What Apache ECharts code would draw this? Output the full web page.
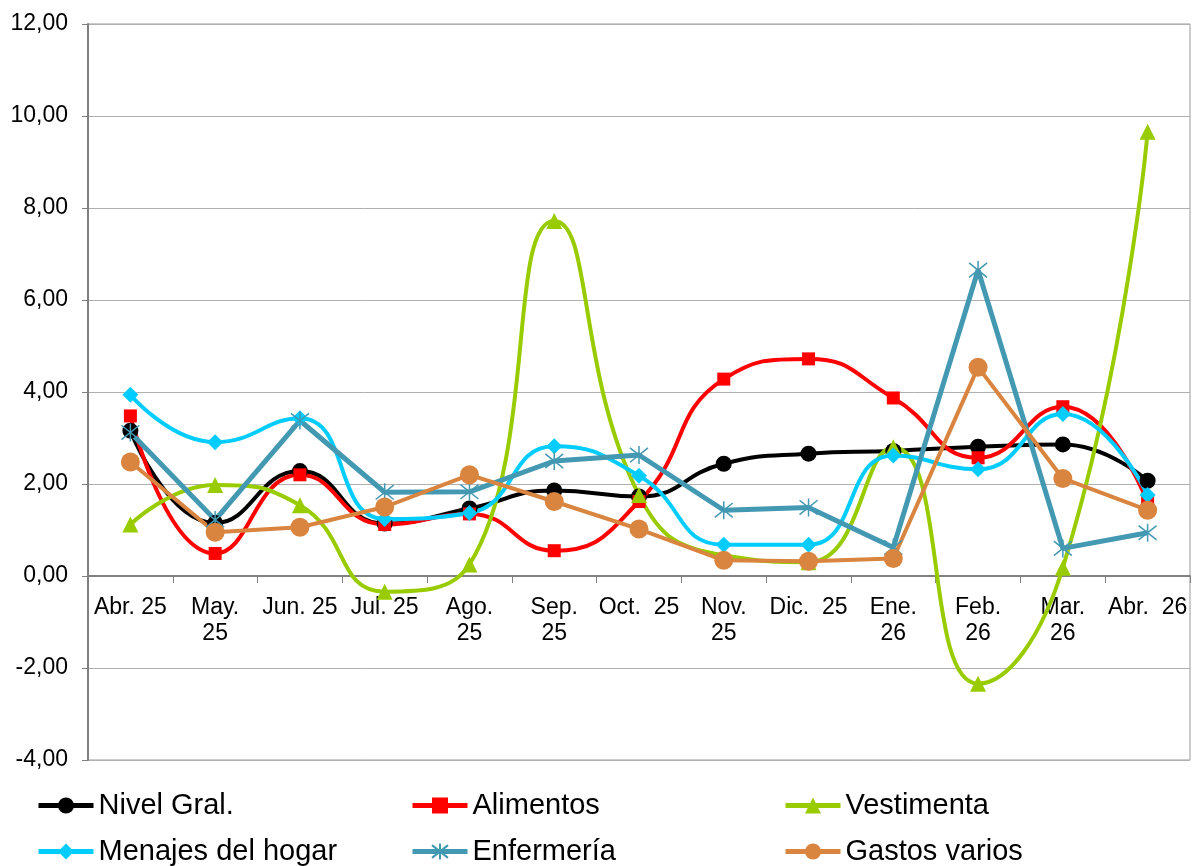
<!DOCTYPE html>
<html>
<head>
<meta charset="utf-8">
<script src="https://cdn.jsdelivr.net/npm/echarts@6/dist/echarts.min.js"></script>
<style>
html,body{margin:0;padding:0;background:#fff;}
#c{width:1192px;height:866px;}
</style>
</head>
<body>
<div id="c"></div>
<script>
var categories = ['Abr. 25','May.\n25','Jun. 25','Jul. 25','Ago.\n25','Sep.\n25','Oct.  25','Nov.\n25','Dic.  25','Ene.\n26','Feb.\n26','Mar.\n26','Abr.  26'];
var nivelGral   = [3.16, 1.15, 2.28, 1.14, 1.47, 1.86, 1.73, 2.44, 2.66, 2.72, 2.81, 2.86, 2.07];
var alimentos   = [3.48, 0.49, 2.20, 1.12, 1.35, 0.55, 1.62, 4.28, 4.72, 3.87, 2.57, 3.68, 1.60];
var vestimenta  = [1.12, 1.98, 1.54, -0.34, 0.25, 7.72, 1.76, 0.45, 0.30, 2.80, -2.34, 0.18, 9.66];
var menajes     = [3.94, 2.91, 3.43, 1.24, 1.37, 2.82, 2.18, 0.68, 0.68, 2.62, 2.32, 3.52, 1.76];
var enfermeria  = [3.12, 1.22, 3.38, 1.82, 1.83, 2.50, 2.63, 1.43, 1.49, 0.62, 6.65, 0.60, 0.94];
var gastos      = [2.48, 0.95, 1.06, 1.50, 2.20, 1.62, 1.02, 0.34, 0.32, 0.38, 4.54, 2.12, 1.43];
var seriesNames = ['Nivel Gral.','Alimentos','Vestimenta','Menajes del hogar','Enfermería','Gastos varios'];

var FONT = '"Liberation Sans", Arial, sans-serif';
var asterisk = 'path://M0,-10 L0,10 M-8,-8 L8,8 M-8,8 L8,-8';

function legendAt(name, left, top) {
  return {
    data: [name], left: left, top: top, orient: 'horizontal', padding: 0,
    itemWidth: 55, itemHeight: 20, itemGap: 0,
    lineStyle: {width: 5},
    textStyle: {fontFamily: FONT, fontSize: 29, color: '#000'}
  };
}

var chart = echarts.init(document.getElementById('c'), null, {renderer: 'canvas'});
chart.setOption({
  animation: false,
  backgroundColor: '#fff',
  grid: {left: 88, right: 2, top: 24, bottom: 106, show: true, borderColor: '#999', borderWidth: 1},
  legend: [
    legendAt(seriesNames[0], 36, 791),
    legendAt(seriesNames[1], 410, 791),
    legendAt(seriesNames[2], 783, 791),
    legendAt(seriesNames[3], 36, 837),
    legendAt(seriesNames[4], 410, 837),
    legendAt(seriesNames[5], 783, 837)
  ],
  xAxis: {
    type: 'category', data: categories, boundaryGap: true,
    offset: -184,
    axisLine: {onZero: false, lineStyle: {color: '#808080', width: 2}},
    axisTick: {show: true, length: 7, lineStyle: {color: '#808080', width: 1}, alignWithLabel: false},
    axisLabel: {fontFamily: FONT, fontSize: 23, color: '#000', margin: 19, lineHeight: 26, interval: 0},
    splitLine: {show: false}
  },
  yAxis: {
    type: 'value', min: -4, max: 12, interval: 2,
    axisLine: {show: true, lineStyle: {color: '#808080', width: 2}},
    axisTick: {show: true, length: 6, lineStyle: {color: '#808080'}},
    axisLabel: {fontFamily: FONT, fontSize: 23, color: '#000', margin: 20,
      formatter: function(v){ return v.toFixed(2).replace('.', ','); }},
    splitLine: {show: true, lineStyle: {color: '#B0B0B0', width: 1}}
  },
  series: [
    {name: seriesNames[0], type: 'line', data: nivelGral, smooth: 0.5,
     symbol: 'circle', symbolSize: 16, color: '#000000',
     lineStyle: {width: 4, color: '#000000'}, itemStyle: {color: '#000000'}},
    {name: seriesNames[1], type: 'line', data: alimentos, smooth: 0.5,
     symbol: 'rect', symbolSize: 13, color: '#FF0000',
     lineStyle: {width: 4, color: '#FF0000'}, itemStyle: {color: '#FF0000'}},
    {name: seriesNames[2], type: 'line', data: vestimenta, smooth: 0.5,
     symbol: 'triangle', symbolSize: 16, color: '#99CC00',
     lineStyle: {width: 4, color: '#99CC00'}, itemStyle: {color: '#99CC00'}},
    {name: seriesNames[3], type: 'line', data: menajes, smooth: 0.5,
     symbol: 'diamond', symbolSize: 16, color: '#00CCFF',
     lineStyle: {width: 4, color: '#00CCFF'}, itemStyle: {color: '#00CCFF'}},
    {name: seriesNames[4], type: 'line', data: enfermeria, smooth: false,
     symbol: asterisk, symbolSize: 18, color: '#4398B2',
     lineStyle: {width: 5, color: '#4398B2'},
     itemStyle: {color: '#4398B2', borderColor: '#4398B2', borderWidth: 1.5}},
    {name: seriesNames[5], type: 'line', data: gastos, smooth: false,
     symbol: 'circle', symbolSize: 19, color: '#D9853F',
     lineStyle: {width: 4, color: '#D9853F'}, itemStyle: {color: '#D9853F'}}
  ]
});
</script>
</body>
</html>
